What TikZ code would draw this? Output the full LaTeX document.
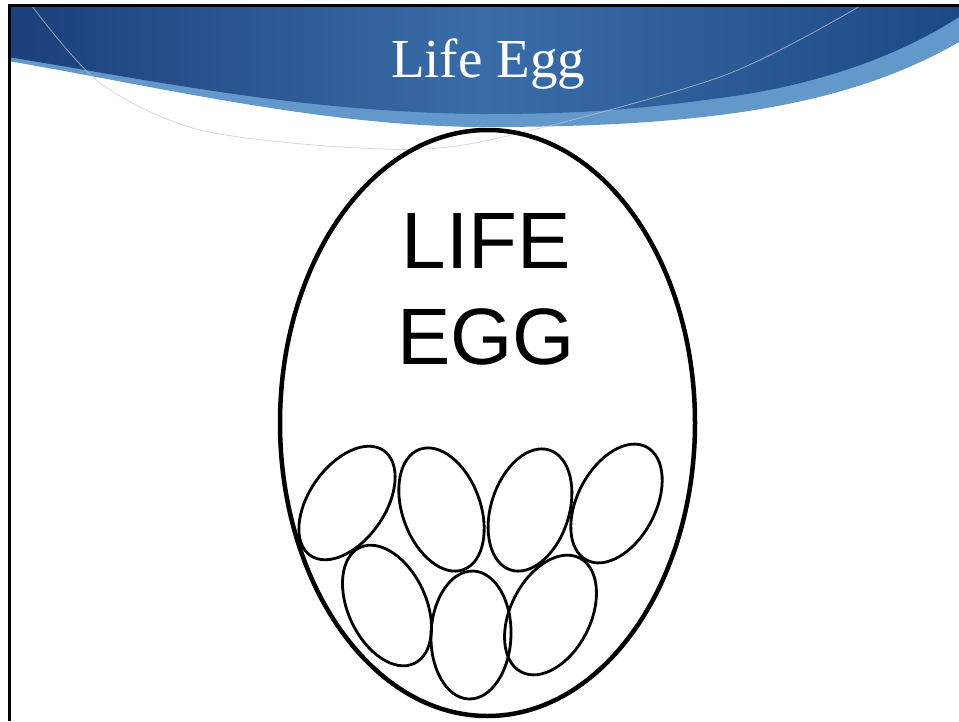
\documentclass[tikz,border=0pt]{standalone}
\usepackage{fontspec}
\usepackage{xcolor}
\usepackage{tikz}
\usetikzlibrary{positioning,shapes.geometric}
\newfontfamily\titlefont{Liberation Serif}
\newfontfamily\eggfont{Liberation Sans}
\definecolor{navy}{HTML}{1B3F7A}
\definecolor{midblue}{HTML}{3A6DA8}
\definecolor{deepblue}{HTML}{1D4886}
\definecolor{swoosh}{HTML}{6398CB}
\definecolor{arcline}{HTML}{C4C8CE}
\tikzset{
    bigegg/.style={ellipse, draw, line width=4.5pt, inner sep=0pt, minimum width=415pt, minimum height=586pt},
    smallegg/.style={ellipse, draw, line width=2.8pt, inner sep=0pt, minimum width=78pt, minimum height=128pt},
    slideframe/.style={line width=3pt, black},
    slidetitle/.style={font=\titlefont\fontsize{55}{66}\selectfont, text=white, inner sep=0pt},
    eggtext/.style={font=\eggfont\fontsize{80}{96}\selectfont, align=center, inner sep=0pt}
}

\begin{document}
\begin{tikzpicture}[x=1pt, y=-1pt]
\useasboundingbox (0,0) rectangle (959,721);

% Header swoosh
\fill[swoosh] (8,5) -- (959,5) -- (959,42)
    .. controls (910,70) and (840,100) .. (720,115)
    .. controls (640,125) and (560,127) .. (480,127)
    .. controls (320,126) and (150,85) .. (8,61) -- cycle;
\shade[left color=navy, right color=deepblue, middle color=midblue] (8,5) -- (959,5) -- (959,17)
    .. controls (900,55) and (820,85) .. (720,98)
    .. controls (620,112) and (560,114) .. (480,114)
    .. controls (300,112) and (150,80) .. (8,57) -- cycle;
\draw[arcline, opacity=0.7, line width=0.8pt] plot[smooth] coordinates {(32,6) (100,83) (200,130) (360,148) (480,142) (720,77) (860,6)};

% Slide frame
\draw[slideframe] (9,721) -- (9,5) -- (959,5);

% Title
\node[slidetitle, anchor=base] (title) at (488,77) {Life Egg};

% Big egg
\node[bigegg] (lifeegg) at (487.5,423) {};
\node[eggtext] (eggname) at (486,289) {LIFE\\EGG};

% Small eggs, top row
\node[smallegg, minimum width=76pt, rotate=-35] (egga) at (347,503) {};
\node[smallegg, rotate=20] (eggb) at (441.5,509.5) {};
\node[smallegg, minimum height=126pt, rotate=-18] (eggc) at (530,510) {};
\node[smallegg, rotate=-28] (eggd) at (616.5,503.5) {};

% Small eggs, bottom row
\node[smallegg, rotate=25] (egge) at (387,605.5) {};
\node[smallegg, minimum width=80pt, rotate=-2] (eggf) at (471,635) {};
\node[smallegg, minimum width=80pt, rotate=-27] (eggg) at (550.5,615) {};

\end{tikzpicture}
\end{document}
